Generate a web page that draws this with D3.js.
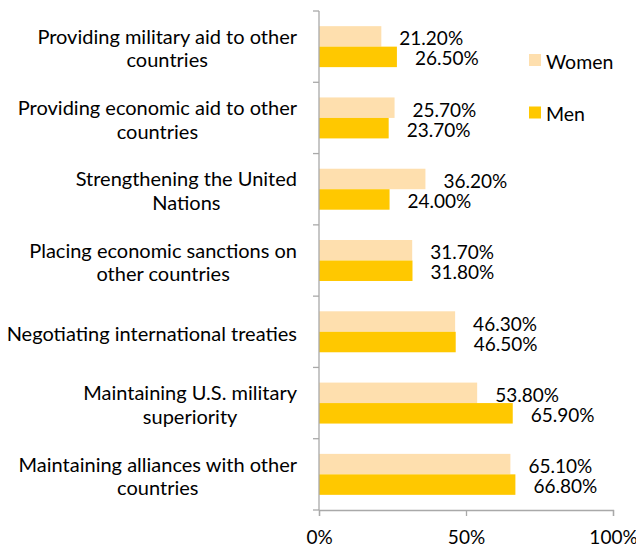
<!DOCTYPE html>
<html>
<head>
<meta charset="utf-8">
<script src="https://cdn.jsdelivr.net/npm/d3@7"></script>
<style>
  html, body { margin: 0; padding: 0; background: #fff; }
  svg { display: block; font-family: Lato, "Open Sans", sans-serif; }
</style>
</head>
<body>
<svg id="chart" width="636" height="546"></svg>
<script>
// Survey items, listed top to bottom
const categories = [
  "Providing military aid to other countries",
  "Providing economic aid to other countries",
  "Strengthening the United Nations",
  "Placing economic sanctions on other countries",
  "Negotiating international treaties",
  "Maintaining U.S. military superiority",
  "Maintaining alliances with other countries"
];
// How each label wraps onto lines
const labelLines = [
  ["Providing military aid to other", "countries"],
  ["Providing economic aid to other", "countries"],
  ["Strengthening the United", "Nations"],
  ["Placing economic sanctions on", "other countries"],
  ["Negotiating international treaties"],
  ["Maintaining U.S. military", "superiority"],
  ["Maintaining alliances with other", "countries"]
];
const series = ["Women", "Men"];
const women = [21.2, 25.7, 36.2, 31.7, 46.3, 53.8, 65.1];
const men   = [26.5, 23.7, 24.0, 31.8, 46.5, 65.9, 66.8];
const xTicks = [0, 50, 100];
const colors = { Women: "#FEDFAE", Men: "#FFC800" };

const svg = d3.select("#chart");
const axisColor = "#A9A9A9";
const fontFamily = "Lato, 'Open Sans', sans-serif";

const x = d3.scaleLinear().domain([0, 100]).range([319, 613]);
const y = d3.scaleBand().domain(categories).range([11, 510]).padding(0);
const ySub = d3.scaleBand().domain(series).range([0, y.bandwidth()])
  .paddingInner(0).paddingOuter(0.74);

const rows = categories.map((c, i) => ({ cat: c, Women: women[i], Men: men[i] }));

// Bars
const g = svg.append("g");
const row = g.selectAll("g.row").data(rows).join("g")
  .attr("class", "row")
  .attr("transform", d => `translate(0,${y(d.cat)})`);

row.selectAll("rect").data(d => series.map(s => ({ s, v: d[s] }))).join("rect")
  .attr("x", x(0))
  .attr("y", d => ySub(d.s))
  .attr("width", d => x(d.v) - x(0))
  .attr("height", ySub.bandwidth())
  .attr("fill", d => colors[d.s]);

// Value labels, just right of each bar end
const labelShift = { Women: 1.5, Men: 1 };
row.selectAll("text.val").data(d => series.map(s => ({ s, v: d[s] }))).join("text")
  .attr("class", "val")
  .attr("x", d => x(d.v) + 18)
  .attr("y", d => ySub(d.s) + ySub.bandwidth() / 2 + labelShift[d.s])
  .attr("dominant-baseline", "central")
  .attr("font-size", 19)
  .attr("fill", "#000")
  .text(d => d.v.toFixed(2) + "%");

// Left axis: line with ticks between categories
const yAxis = svg.append("g");
yAxis.append("line")
  .attr("x1", x(0)).attr("x2", x(0))
  .attr("y1", y.range()[0]).attr("y2", y.range()[1])
  .attr("stroke", axisColor).attr("stroke-width", 1.3);
const boundaries = categories.map(c => y(c)).concat([y.range()[1]]);
yAxis.selectAll("line.tick").data(boundaries).join("line")
  .attr("class", "tick")
  .attr("x1", x(0) - 6).attr("x2", x(0))
  .attr("y1", d => d).attr("y2", d => d)
  .attr("stroke", axisColor).attr("stroke-width", 1.3);

// Category labels: block right-aligned to the axis, lines centred in the block
const labelRight = 297;
const lineH = 23.5;
const labels = svg.append("g").attr("font-size", 20).attr("fill", "#000");
labelLines.forEach((lines, i) => {
  const t = labels.append("text").attr("text-anchor", "middle");
  const cy = y(categories[i]) + y.bandwidth() / 2 + 1;
  const top = cy - (lines.length - 1) * lineH / 2;
  const spans = lines.map((ln, j) => t.append("tspan")
    .attr("y", top + j * lineH)
    .attr("dominant-baseline", "central")
    .text(ln));
  const maxW = d3.max(spans, s => s.node().getComputedTextLength());
  spans.forEach(s => s.attr("x", labelRight - maxW / 2));
});

// Bottom axis
const xAxis = svg.append("g").attr("transform", `translate(0,${y.range()[1]})`)
  .call(d3.axisBottom(x).tickValues(xTicks).tickSize(6)
    .tickFormat(d => d + "%"));
xAxis.select(".domain").attr("stroke", axisColor).attr("stroke-width", 1.3);
xAxis.selectAll(".tick line").attr("stroke", axisColor).attr("stroke-width", 1.3);
xAxis.selectAll(".tick text")
  .attr("y", 34).attr("dy", 0)
  .attr("font-size", 19).attr("fill", "#000")
  .attr("font-family", fontFamily);

// Legend
const legend = svg.append("g");
const legendY = [54, 106.5];
series.forEach((s, i) => {
  legend.append("rect")
    .attr("x", 529).attr("y", legendY[i])
    .attr("width", 12).attr("height", 12)
    .attr("fill", colors[s]);
  legend.append("text")
    .attr("x", 546).attr("y", legendY[i] + 14.5)
    .attr("font-size", 19.5).attr("fill", "#000")
    .text(s);
});
</script>
</body>
</html>
